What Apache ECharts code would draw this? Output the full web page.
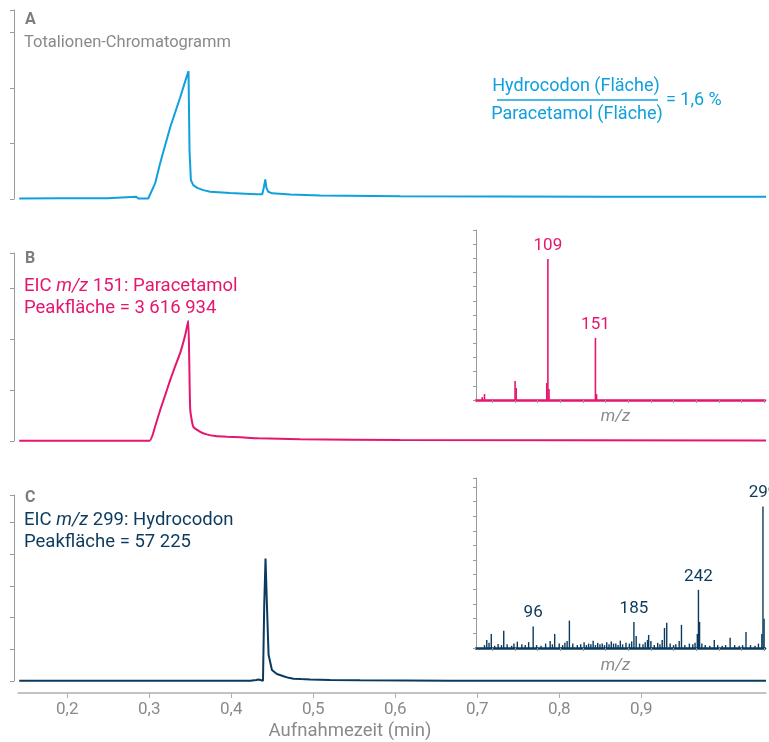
<!DOCTYPE html>
<html><head><meta charset="utf-8">
<script src="https://cdn.jsdelivr.net/npm/echarts@6/dist/echarts.min.js"></script>
<style>html,body{margin:0;padding:0;background:#fff}#c{width:769px;height:742px}</style>
</head><body><div id="c"></div>
<script>
// ---- Data ----
// Panel A: total ion chromatogram (time in min, intensity in arbitrary units)
const timeA = [0.1415,0.1915,0.2488,0.25,0.2841,0.2866,0.2988,0.3012,0.3073,0.3134,0.3195,0.3256,0.3317,0.3378,0.3439,0.3479,0.3491,0.3508,0.3537,0.3585,0.3659,0.3744,0.3988,0.4232,0.4305,0.4329,0.4378,0.4396,0.4415,0.443,0.4451,0.45,0.472,0.5085,0.6061,0.728,0.85,1.052];
const intA  = [0.009,0.013,0.013,0.023,0.04,0.009,0.009,0.04,0.287,0.646,0.97,1.29,1.56,1.83,2.12,2.30,0.88,0.34,0.25,0.20,0.16,0.13,0.108,0.09,0.084,0.097,0.084,0.197,0.354,0.197,0.13,0.102,0.081,0.063,0.048,0.045,0.04,0.04];
// Panel B: EIC m/z 151
const timeB = [0.1415,0.3004,0.3037,0.3073,0.3134,0.3195,0.3256,0.3317,0.3378,0.3439,0.3476,0.3488,0.35,0.3537,0.3622,0.3700,0.3805,0.395,0.411,0.4329,0.4841,0.6061,1.052];
const intB  = [0.006,0.006,0.098,0.29,0.61,0.90,1.20,1.47,1.73,2.08,2.36,1.58,0.61,0.28,0.18,0.13,0.098,0.083,0.073,0.053,0.033,0.02,0.01];
// Panel C: EIC m/z 299
const timeC = [0.1415,0.4232,0.4305,0.4333,0.4387,0.4402,0.4418,0.4435,0.4455,0.4496,0.4557,0.4638,0.470,0.476,0.485,0.4963,0.5207,0.5573,0.6671,1.052];
const intC  = [0.005,0.005,0.03,0.05,0.01,2.4,3.87,2.4,0.83,0.35,0.22,0.15,0.10,0.07,0.06,0.05,0.03,0.02,0.01,0.01];
// Inset spectrum B (Paracetamol)
const mzB  = [51,53,80,81,108,109,110,151,152];
const relB = [0.2,0.42,1.34,0.85,1.2,9.95,0.78,4.38,0.42];
const labeledB = [109,151];
// Inset spectrum C (Hydrocodon)
const mzC  = [53,55,57,59,62,65,68,70,73,77,79,82,86,89,92,96,99,103,107,111,113,115,119,122,124,126,128,131,135,138,141,143,145,147,149,151,153,155,157,159,161,163,165,167,169,171,173,175,178,181,183,185,187,190,193,195,197,198,200,203,206,208,210,212,214,217,220,222,225,227,230,234,237,239,241,242,243,245,248,252,256,259,263,266,270,274,278,281,284,288,292,295,298,299,300];
const relC = [0.2,0.55,0.35,0.96,0.15,0.27,0.2,1.18,0.25,0.15,0.3,0.43,0.25,0.2,0.4,1.46,0.2,0.15,0.3,0.48,0.25,0.96,0.3,0.2,0.35,0.48,1.87,0.3,0.2,0.25,0.4,0.2,0.3,0.25,0.5,0.2,0.35,0.25,0.3,0.2,0.4,0.25,0.45,0.3,0.3,0.2,0.5,0.25,0.35,0.3,0.45,1.78,0.82,0.3,0.25,0.4,0.55,0.89,0.48,0.2,0.35,0.25,0.55,1.37,1.73,0.3,0.2,0.25,0.48,1.58,0.2,0.3,0.25,0.35,0.96,3.97,1.78,0.3,0.2,0.15,0.55,0.2,0.15,0.2,0.7,0.2,0.15,0.2,1.1,0.2,0.15,0.3,0.96,9.66,1.99];
const labeledC = [96,185,242,299];
// Tick labels
const timeTicks = [0.2,0.3,0.4,0.5,0.6,0.7,0.8,0.9];
const mzTicks = [60,80,100,120,140,160,180,200,220,240,260,280,300];

// ---- Styles ----
const BLUE = '#0fa0dd', PINK = '#e5166f', NAVY = '#0b3a5e', GREY = '#8a8a8a', AX = '#9a9a9a';
const FONT = 'Roboto';

function pairs(xs, ys){ return xs.map((x,i)=>[x, ys[i]]); }
function spec(xs, ys, labeled){
  return xs.map((x,i)=>{
    const d = {value:[x, ys[i]]};
    if (labeled.indexOf(x) >= 0) d.label = {show:true};
    return d;
  });
}
const mainY = (idx, max) => ({gridIndex: idx, type:'value', min:0, max:max, interval:1, offset:4,
  axisLine:{show:true, lineStyle:{color:AX, width:1}}, axisTick:{show:true, length:4, lineStyle:{color:AX}},
  axisLabel:{show:false}, splitLine:{show:false}});
const mainX = (idx, show) => ({gridIndex: idx, type:'value', min:0.14, max:1.052, show:show,
  offset: 12,
  axisLine:{show:true, onZero:false, lineStyle:{color:'#b0b0b0', width:1.5}},
  axisTick:{show:true, length:5, lineStyle:{color:'#b0b0b0'}, customValues: timeTicks},
  axisLabel:{show:true, color:GREY, fontSize:17, fontFamily:FONT, margin:8, customValues: timeTicks,
    formatter: v => v.toFixed(1).replace('.', ',')},
  splitLine:{show:false},
  name:'Aufnahmezeit (min)', nameLocation:'middle', nameGap:29,
  nameTextStyle:{color:GREY, fontSize:18.5, fontFamily:FONT, padding:[0,84,0,0]}});
const insetX = (idx, color, gap) => ({gridIndex: idx, type:'value', min:45.5, max:300.8,
  axisLine:{show:true, onZero:false, lineStyle:{color:color, width:2.5}},
  axisTick:{show:true, length:3, lineStyle:{color:AX}, customValues: mzTicks},
  axisLabel:{show:false}, splitLine:{show:false},
  name:'m/z', nameLocation:'middle', nameGap:gap,
  nameTextStyle:{color:GREY, fontSize:17, fontStyle:'italic', fontFamily:FONT, padding:[0,10,0,0]}});
const insetY = (idx, max) => ({gridIndex: idx, type:'value', min:0, max:max, interval:1,
  axisLine:{show:true, lineStyle:{color:AX}}, axisTick:{show:true, length:3, lineStyle:{color:AX}},
  axisLabel:{show:false}, splitLine:{show:false}});

const txt = (text, left, top, color, size, bold) => ({left, top, padding:0, text,
  textStyle:{color, fontSize:size, fontWeight: bold?'bold':'normal', fontFamily:FONT, lineHeight:22,
    rich:{n:{color, fontSize:size, fontFamily:FONT, lineHeight:22}, i:{color, fontSize:size, fontFamily:FONT, fontStyle:'italic', lineHeight:22}}}});

const option = {
  animation:false,
  backgroundColor:'#fff',
  title:[
    txt('A', 25, 9, '#7d7d7d', 16, true),
    txt('Totalionen-Chromatogramm', 24, 32, GREY, 16.5),
    txt('B', 25, 248, '#7d7d7d', 16, true),
    txt('{n|EIC }{i|m/z}{n| 151: Paracetamol}\n{n|Peakfläche = 3 616 934}', 24, 275, PINK, 18.5),
    txt('C', 25, 487, '#7d7d7d', 16, true),
    txt('{n|EIC }{i|m/z}{n| 299: Hydrocodon}\n{n|Peakfläche = 57 225}', 24, 509, NAVY, 18.5)
  ],
  graphic:[
    {type:'text', style:{text:'Hydrocodon (Fläche)', x:576, y:86, fill:BLUE, font:'18px Roboto', textAlign:'center', textVerticalAlign:'middle'}},
    {type:'line', shape:{x1:497, y1:100, x2:658, y2:100}, style:{stroke:BLUE, lineWidth:1.5}},
    {type:'text', style:{text:'Paracetamol (Fläche)', x:577, y:114, fill:BLUE, font:'18px Roboto', textAlign:'center', textVerticalAlign:'middle'}},
    {type:'text', style:{text:'= 1,6 %', x:666, y:100, fill:BLUE, font:'18px Roboto', textAlign:'left', textVerticalAlign:'middle'}}
  ],
  grid:[
    {left:18, width:748, top:10, height:189},
    {left:18, width:748, top:253, height:188},
    {left:18, width:748, top:495, height:188},
    {left:476, width:289, top:230, height:170},
    {left:476, width:289, top:478, height:170}
  ],
  xAxis:[
    mainX(0,false), mainX(1,false), mainX(2,true),
    insetX(3, PINK, 8), insetX(4, NAVY, 9)
  ],
  yAxis:[
    mainY(0,3.4), mainY(1,3.69), mainY(2,5.875),
    insetY(3,12), insetY(4,11.6)
  ],
  series:[
    {type:'line', xAxisIndex:0, yAxisIndex:0, data:pairs(timeA,intA), showSymbol:false, lineStyle:{color:BLUE, width:2}, itemStyle:{color:BLUE}},
    {type:'line', xAxisIndex:1, yAxisIndex:1, data:pairs(timeB,intB), showSymbol:false, smooth:0.15, lineStyle:{color:PINK, width:2}, itemStyle:{color:PINK}},
    {type:'line', xAxisIndex:2, yAxisIndex:2, data:pairs(timeC,intC), showSymbol:false, lineStyle:{color:NAVY, width:2}, itemStyle:{color:NAVY}},
    {type:'bar', xAxisIndex:3, yAxisIndex:3, data:spec(mzB,relB,labeledB), barWidth:1.6, itemStyle:{color:PINK},
      label:{show:false, position:'top', color:PINK, fontSize:17, fontFamily:FONT, distance:5, formatter:p=>p.value[0]}},
    {type:'bar', xAxisIndex:4, yAxisIndex:4, data:spec(mzC,relC,labeledC), barWidth:1.4, itemStyle:{color:NAVY},
      label:{show:false, position:'top', color:NAVY, fontSize:17, fontFamily:FONT, distance:5, formatter:p=>p.value[0]}}
  ]
};
const chart = echarts.init(document.getElementById('c'), null, {renderer:'canvas'});
chart.setOption(option);
</script></body></html>
